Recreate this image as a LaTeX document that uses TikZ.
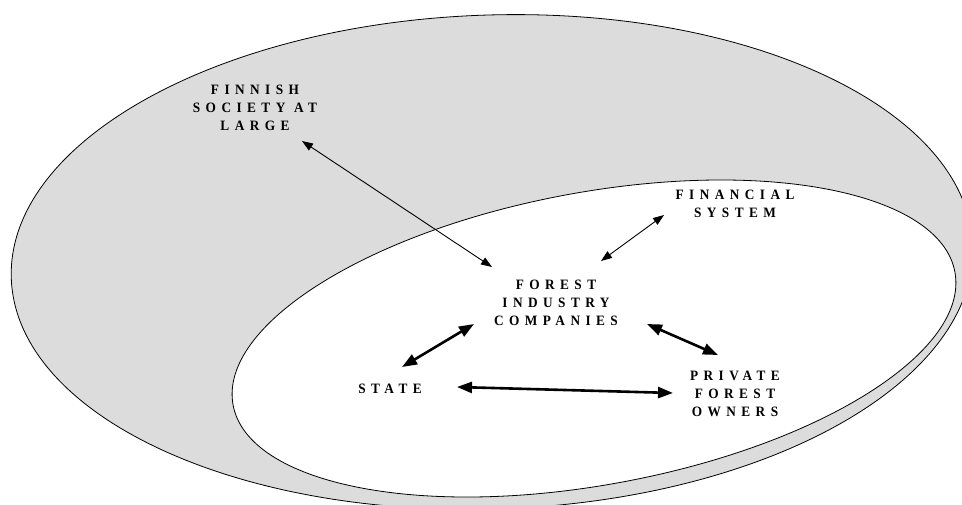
\documentclass[tikz,border=0pt]{standalone}
\usepackage{fontspec}
\setmainfont{Liberation Serif}
\newfontfamily\labelfont[FakeStretch=0.93,LetterSpace=38]{Liberation Serif}
\usetikzlibrary{arrows.meta}

\definecolor{societygray}{RGB}{220,220,220}

\tikzset{
  actor/.style={font=\labelfont\bfseries\fontsize{14.3}{18}\selectfont,
                align=center, inner sep=0pt},
  ring/.style={draw=black, line width=0.8pt},
  linkthin/.style={line width=0.9pt,
     {Triangle[length=11pt,width=8pt]}-{Triangle[length=11pt,width=8pt]}},
  linkthick/.style={line width=2.6pt,
     {Triangle[length=15pt,width=11pt]}-{Triangle[length=15pt,width=11pt]}}
}

\begin{document}
\begin{tikzpicture}[x=1pt,y=-1pt]
  \useasboundingbox (0,0) rectangle (962,504);
  \clip (0,0) rectangle (962,504);

  % society at large (outer) and the forest sector (inner)
  \filldraw[ring, fill=societygray, rotate around={1.94:(492,262)}]
    (492,262) ellipse [x radius=481, y radius=247];
  \filldraw[ring, fill=white, rotate around={10.43:(594,338.5)}]
    (594,338.5) ellipse [x radius=367, y radius=146.3];

  % actors
  \node[actor] (society) at (255,108) {FINNISH\\SOCIETY AT\\LARGE};
  \node[actor] (finance) at (735,204) {FINANCIAL\\SYSTEM};
  \node[actor] (industry) at (556,302.5) {FOREST\\INDUSTRY\\COMPANIES};
  \node[actor] (state) at (390,388.5) {STATE};
  \node[actor] (owners) at (735,393.5) {PRIVATE\\FOREST\\OWNERS};

  % arrow ends beside each label
  \coordinate (society-in)  at (302,141);
  \coordinate (industry-nw) at (492,267);
  \coordinate (finance-in)  at (664,215);
  \coordinate (industry-ne) at (601,261);
  \coordinate (industry-sw) at (474,324);
  \coordinate (state-ne)    at (402,367);
  \coordinate (industry-se) at (647,324);
  \coordinate (owners-nw)   at (718,355);
  \coordinate (state-e)     at (457,387);
  \coordinate (owners-w)    at (673,393);

  % relations
  \draw[linkthin]  (society-in)  -- (industry-nw);
  \draw[linkthin]  (industry-ne) -- (finance-in);
  \draw[linkthick] (industry-sw) -- (state-ne);
  \draw[linkthick] (industry-se) -- (owners-nw);
  \draw[linkthick] (state-e)     -- (owners-w);
\end{tikzpicture}
\end{document}
